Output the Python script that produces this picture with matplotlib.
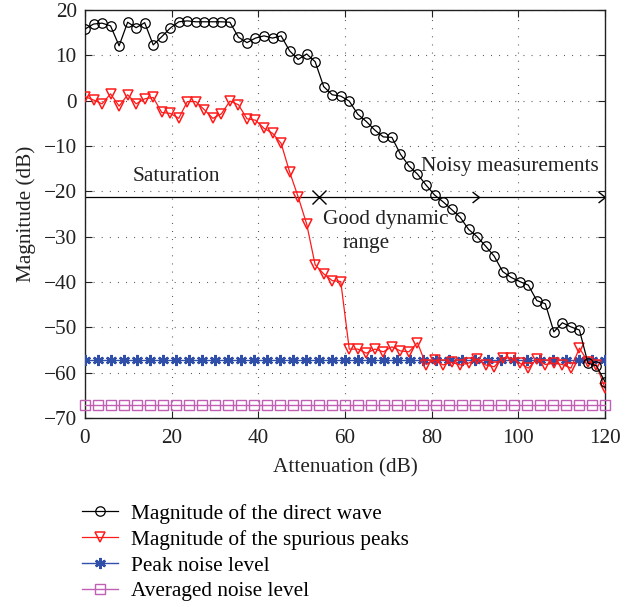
import matplotlib
matplotlib.use('Agg')
import matplotlib.pyplot as plt
from matplotlib.path import Path

plt.rcParams['font.family'] = ['Liberation Serif', 'DejaVu Serif']
FS = 15.3
plt.rcParams['font.size'] = FS

# Attenuation grid for the measured curves (62 samples, 0..120 dB)
atten = [0.0, 1.97, 3.93, 5.90, 7.87, 9.84, 11.80, 13.77, 15.74, 17.70,
         19.67, 21.64, 23.61, 25.57, 27.54, 29.51, 31.48, 33.44, 35.41, 37.38,
         39.34, 41.31, 43.28, 45.25, 47.21, 49.18, 51.15, 53.11, 55.08, 57.05,
         59.02, 60.98, 62.95, 64.92, 66.89, 68.85, 70.82, 72.79, 74.75, 76.72,
         78.69, 80.66, 82.62, 84.59, 86.56, 88.52, 90.49, 92.46, 94.43, 96.39,
         98.36, 100.33, 102.30, 104.26, 106.23, 108.20, 110.16, 112.13, 114.10, 116.07,
         118.03, 120.0]

direct_wave = [15.8, 16.9, 17.1, 16.5, 12.1, 17.3, 16.1, 17.2, 12.3, 14.1,
               16.0, 17.4, 17.6, 17.4, 17.4, 17.4, 17.4, 17.3, 14.0, 12.8,
               13.8, 14.3, 13.8, 14.3, 11.0, 9.1, 10.3, 8.6, 3.1, 1.3,
               1.0, -0.1, -3.0, -4.6, -6.5, -8.0, -8.1, -11.8, -14.4, -16.2,
               -18.6, -20.8, -22.3, -24.0, -25.7, -28.4, -30.0, -32.1, -34.3, -37.7,
               -39.0, -39.9, -40.7, -44.1, -44.8, -51.0, -49.0, -49.9, -50.6, -57.9,
               -58.5, -62.0]

spurious = [0.9, 0.15, -0.7, 1.5, -1.2, 1.3, -0.7, 0.4, 0.7, -2.6,
            -2.8, -3.9, -0.2, -0.2, -2.0, -3.9, -2.9, -0.1, -0.9, -4.0,
            -4.3, -6.1, -7.2, -9.4, -15.7, -21.2, -27.2, -36.2, -38.2, -39.7,
            -39.9, -54.8, -54.8, -55.7, -54.8, -55.4, -54.3, -55.2, -55.4, -53.4,
            -58.2, -57.2, -58.3, -57.7, -58.3, -57.9, -57.0, -58.3, -58.7, -56.7,
            -56.8, -57.9, -59.0, -57.0, -58.2, -57.9, -58.2, -59.0, -54.6, -57.6,
            -58.3, -63.4]

# Noise levels (41 samples, every 3 dB)
noise_x = [0, 3, 6, 9, 12, 15, 18, 21, 24, 27, 30, 33, 36, 39, 42, 45, 48, 51, 54, 57,
           60, 63, 66, 69, 72, 75, 78, 81, 84, 87, 90, 93, 96, 99, 102, 105, 108, 111,
           114, 117, 120]
peak_noise = [-57.1] * len(noise_x)
avg_noise = [-67.1] * len(noise_x)

# Region annotation
region_level = -21.3
region_x = [0, 120]
region_bounds = [54, 91, 120]

x_ticks = [0, 20, 40, 60, 80, 100, 120]
y_ticks = [20, 10, 0, -10, -20, -30, -40, -50, -60, -70]

TXT = '#222222'

fig = plt.figure(figsize=(6.39, 6.07), dpi=100)
ax = fig.add_axes([85/639, 1 - 418/607, 520/639, 408/607])

l1, = ax.plot(atten, direct_wave, color='black', lw=0.9, marker='o', ms=6.8,
              mfc='none', mec='black', mew=0.9, label='Magnitude of the direct wave', zorder=5)
l2, = ax.plot(atten, spurious, color='#FF1A1A', lw=0.9, marker='v', ms=7.5,
              mfc='none', mec='#FF1A1A', mew=1.1, label='Magnitude of the spurious peaks', zorder=4)
l3, = ax.plot(noise_x, peak_noise, color='#2F4FA8', lw=1.0, marker=(6, 2, 0), ms=8,
              mec='#2F4FA8', mew=1.7, label='Peak noise level', zorder=3)
l4, = ax.plot(noise_x, avg_noise, color='#C05FB4', lw=1.0, marker='s', ms=6.8,
              mfc='none', mec='#C05FB4', mew=1.0, label='Averaged noise level', zorder=3, clip_on=False)

# Annotation line and markers
ax.plot(region_x, [region_level, region_level], color='black', lw=0.9, zorder=2)
ax.plot([region_bounds[0]], [region_level], marker='x', ms=10, mew=1.0, color='black', zorder=2)
chev = Path([(-1.27, 1), (0, 0), (-1.27, -1)], [Path.MOVETO, Path.LINETO, Path.LINETO])
ax.plot(region_bounds[1:], [region_level] * 2, ls='none', marker=chev, ms=10,
        mfc='none', mec='black', mew=1.0, clip_on=False, zorder=2)

ax.text(21.2, -16.8, 'Saturation', ha='center', va='center', color=TXT)
ax.text(69.5, -26.2, 'Good dynamic', ha='center', va='center', color=TXT)
ax.text(65.0, -31.5, 'range', ha='center', va='center', color=TXT)
ax.text(98.0, -14.6, 'Noisy measurements', ha='center', va='center', color=TXT)

ax.set_xlim(0, 120)
ax.set_ylim(-70, 20)
ax.set_xticks(x_ticks)
ax.set_yticks(y_ticks)
ax.tick_params(direction='in', length=5, width=0.8, top=True, right=True,
               labelsize=FS, pad=8, colors=TXT)
ax.tick_params(axis='y', pad=6)
ax.grid(True, color='#444444', lw=0.8, dashes=(0.8, 6.5))
for s in ax.spines.values():
    s.set_linewidth(1.0)
    s.set_color(TXT)

ax.set_xlabel('Attenuation (dB)', fontsize=FS, labelpad=7, color=TXT)
ax.set_ylabel('Magnitude (dB)', fontsize=FS, labelpad=5, color=TXT)

fig.legend(handles=[l1, l2, l3, l4], loc='upper left', bbox_to_anchor=(82/639, 1 - 504/607),
           frameon=False, fontsize=FS, handlelength=1.7, handletextpad=0.6,
           labelspacing=0.28, borderaxespad=0, borderpad=0)

fig.savefig('out.png', dpi=100)
